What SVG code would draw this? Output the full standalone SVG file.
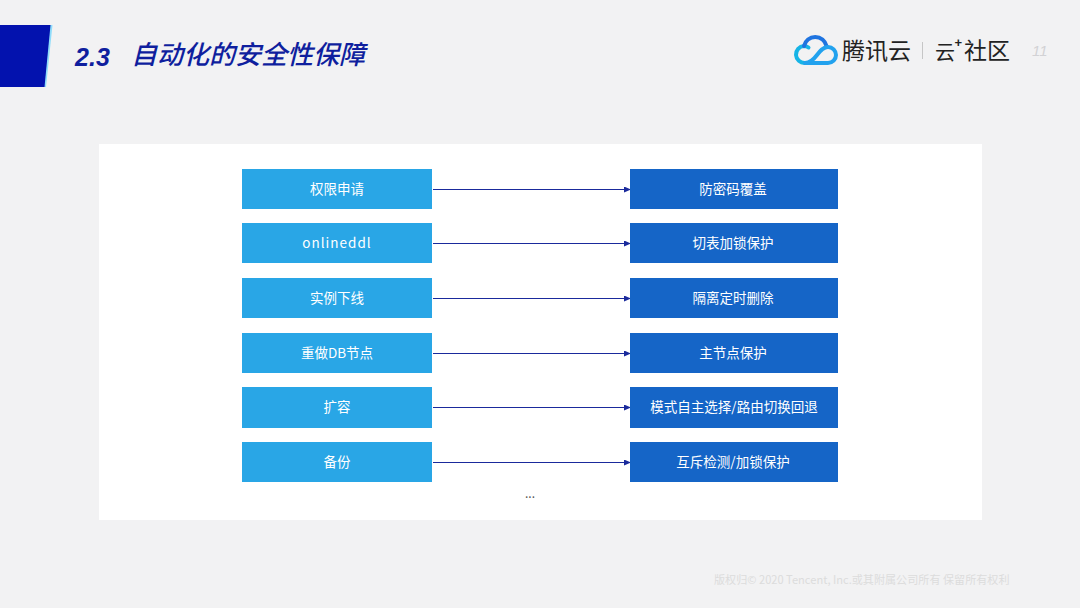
<svg xmlns="http://www.w3.org/2000/svg" width="1080" height="608" viewBox="0 0 1080 608">
<style>
text{font-family:"Noto Sans CJK SC","Noto Sans",sans-serif}
.l{fill:#29a6e6}.r{fill:#1565c7}
.t{fill:#fff;font-size:13.500px;text-anchor:middle;dominant-baseline:central}
.c{stroke:#1a2a9c;stroke-width:1;fill:none;marker-end:url(#a)}
</style>
<defs><marker id="a" markerUnits="userSpaceOnUse" markerWidth="7" markerHeight="6" refX="6" refY="3" orient="auto"><path d="M0 0L7 3L0 6z" fill="#1a2a9c"/></marker></defs>
<rect width="1080" height="608" fill="#f2f2f3"/>
<g id="header">
<path d="M0 25H52.500L46 87H0z" fill="#8fdcfa"/>
<path d="M0 25H50.500L44.500 87H0z" fill="#0312ae"/>
<text x="75" y="66" font-size="25" font-weight="700" font-style="italic" fill="#0f1f9e" style="font-family:'Liberation Sans',sans-serif" textLength="35">2.3</text>
<text x="131" y="64" font-size="26" font-weight="500" font-style="italic" fill="#0f1f9e">自动化的安全性保障</text>
</g>
<g id="logo">
<g fill="none" stroke-linecap="round" stroke-width="4">
<path d="M805 63a8.500 8.500 0 0 1-1-17c1.500 0 3 .4 4.500 1.500" stroke="#16b4e6"/>
<path d="M804 46a11.500 11.500 0 0 1 22.500 0" stroke="#1f74e0"/>
<path d="M805 63c5 0 9-4 12-8s6-8 11-8a8 8 0 0 1 0 16H805" stroke="#22a2ee"/>
</g>
<text x="842" y="59" font-size="23" fill="#222">腾讯云</text>
<rect x="922" y="42" width="1" height="17" fill="#c6c6c6"/>
<text x="935" y="60" font-size="20" fill="#222">云</text>
<text x="954.500" y="47" font-size="13" font-weight="700" fill="#222" style="font-family:'Liberation Sans',sans-serif">+</text>
<text x="964" y="59" font-size="23" fill="#222">社区</text>
<text x="1032" y="56" font-size="15" font-style="italic" fill="#d2d2d5" style="font-family:'Liberation Sans',sans-serif">11</text>
</g>
<rect x="99" y="144" width="883" height="376" fill="#fff"/>
<g id="connectors">
<path class="c" d="M433 189.500H630"/>
<path class="c" d="M433 243.500H630"/>
<path class="c" d="M433 298.500H630"/>
<path class="c" d="M433 353.500H630"/>
<path class="c" d="M433 407.500H630"/>
<path class="c" d="M433 462.500H630"/>
</g>
<g id="a1"><rect class="l" x="242" y="169" width="190" height="40"/><text class="t" x="337" y="187.500">权限申请</text></g>
<g id="a2"><rect class="l" x="242" y="223" width="190" height="40"/><text class="t" x="337" y="242" letter-spacing="1">onlineddl</text></g>
<g id="a3"><rect class="l" x="242" y="278" width="190" height="40"/><text class="t" x="337" y="297">实例下线</text></g>
<g id="a4"><rect class="l" x="242" y="333" width="190" height="40"/><text class="t" x="337" y="351.500">重做DB节点</text></g>
<g id="a5"><rect class="l" x="242" y="387" width="190" height="41"/><text class="t" x="337" y="406">扩容</text></g>
<g id="a6"><rect class="l" x="242" y="442" width="190" height="40"/><text class="t" x="337" y="461">备份</text></g>
<g id="b1"><rect class="r" x="630" y="169" width="208" height="40"/><text class="t" x="733" y="187.500">防密码覆盖</text></g>
<g id="b2"><rect class="r" x="630" y="223" width="208" height="40"/><text class="t" x="733" y="242">切表加锁保护</text></g>
<g id="b3"><rect class="r" x="630" y="278" width="208" height="40"/><text class="t" x="733" y="297">隔离定时删除</text></g>
<g id="b4"><rect class="r" x="630" y="333" width="208" height="40"/><text class="t" x="733" y="351.500">主节点保护</text></g>
<g id="b5"><rect class="r" x="630" y="387" width="208" height="41"/><text class="t" x="734" y="406">模式自主选择/路由切换回退</text></g>
<g id="b6"><rect class="r" x="630" y="442" width="208" height="40"/><text class="t" x="733" y="461">互斥检测/加锁保护</text></g>
<text x="530" y="498" font-size="12" fill="#555" text-anchor="middle">...</text>
<text x="714" y="584" font-size="11.100" fill="#dcdcdc">版权归© 2020 Tencent, Inc.或其附属公司所有 保留所有权利</text>
</svg>
